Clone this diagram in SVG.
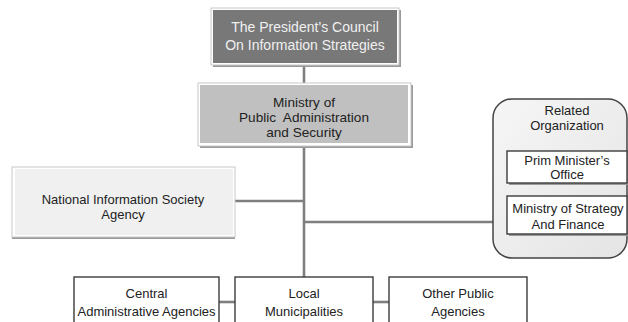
<svg xmlns="http://www.w3.org/2000/svg" width="628" height="322" viewBox="0 0 628 322">
  <style>
    text { font-family: "Liberation Sans", Arial, sans-serif; font-size: 13px; fill: #222; text-anchor: middle; }
    .light { fill: #f0f0f0; font-size: 14px; }
    .mid { font-size: 13.6px; }
    .frame { fill: #ffffff; stroke: #c8c8c8; stroke-width: 1; }
    .shadow { fill: #9a9a9a; }
    .wire { fill: none; stroke: #7f7f7f; stroke-width: 2.6; }
    .plain { fill: #ffffff; stroke: #3c3c3c; stroke-width: 1.4; }
  </style>
  <defs>
    <linearGradient id="panelFill" x1="0" y1="0" x2="1" y2="1">
      <stop offset="0" stop-color="#f6f6f6"/>
      <stop offset="1" stop-color="#e4e4e4"/>
    </linearGradient>
  </defs>
  <rect width="628" height="322" fill="#ffffff"/>

  <!-- connectors -->
  <g id="connectors">
    <line class="wire" x1="304" y1="65" x2="304" y2="83"/>
    <line class="wire" x1="304" y1="147" x2="304" y2="277"/>
    <line class="wire" x1="235" y1="201" x2="304" y2="201"/>
    <line class="wire" x1="304" y1="222" x2="494" y2="222"/>
    <line class="wire" x1="219" y1="302" x2="235" y2="302"/>
    <line class="wire" x1="373" y1="302" x2="389" y2="302"/>
  </g>

  <!-- top council -->
  <g id="council">
    <rect class="shadow" x="213" y="10" width="188" height="57"/>
    <rect class="frame" x="211" y="8" width="188" height="57"/>
    <rect x="213" y="10" width="184" height="53" fill="#787878"/>
    <text class="light" x="305" y="32">The President’s Council</text>
    <text class="light" x="305" y="50">On Information Strategies</text>
  </g>

  <!-- ministry -->
  <g id="mopas">
    <rect class="shadow" x="200" y="85" width="213" height="63"/>
    <rect class="frame" x="198" y="83" width="213" height="63"/>
    <rect x="200" y="85" width="208" height="58" fill="#c0c0c0"/>
    <text class="mid" x="304" y="107">Ministry of</text>
    <text class="mid" x="304" y="122" xml:space="preserve">Public  Administration</text>
    <text class="mid" x="304" y="137">and Security</text>
  </g>

  <!-- national information society agency -->
  <g id="nia">
    <rect class="shadow" x="12" y="169" width="223" height="70"/>
    <rect class="frame" x="12" y="167" width="223" height="70"/>
    <rect x="15" y="169" width="218" height="66" fill="#f0f0f0"/>
    <text x="123" y="204">National Information Society</text>
    <text x="123" y="218.5">Agency</text>
  </g>

  <!-- related organization panel -->
  <g id="related">
    <rect x="493" y="99" width="134" height="159" rx="19" fill="url(#panelFill)" stroke="#444" stroke-width="1.5"/>
    <text x="567" y="115">Related</text>
    <text x="567" y="130">Organization</text>
  </g>
  <g id="pmo">
    <rect class="shadow" x="509" y="153" width="120" height="32"/>
    <rect class="plain" x="507" y="151" width="120" height="32"/>
    <text x="567" y="165">Prim Minister’s</text>
    <text x="567" y="179">Office</text>
  </g>
  <g id="mosf">
    <rect class="shadow" x="509" y="198" width="120" height="38"/>
    <rect class="plain" x="507" y="196" width="120" height="38"/>
    <text x="568" y="213">Ministry of Strategy</text>
    <text x="568" y="229">And Finance</text>
  </g>

  <!-- lower tier -->
  <g id="central">
    <rect class="plain" x="74" y="277" width="145" height="60"/>
    <text x="146.5" y="298">Central</text>
    <text x="146.5" y="316">Administrative Agencies</text>
  </g>
  <g id="local">
    <rect class="plain" x="235" y="277" width="138" height="60"/>
    <text x="304" y="298">Local</text>
    <text x="304" y="316">Municipalities</text>
  </g>
  <g id="other">
    <rect class="plain" x="389" y="277" width="138" height="60"/>
    <text x="458" y="298">Other Public</text>
    <text x="458" y="316">Agencies</text>
  </g>
</svg>
